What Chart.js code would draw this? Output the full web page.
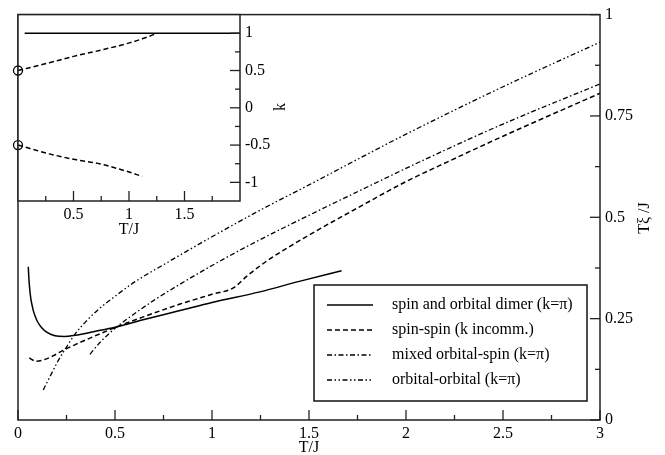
<!DOCTYPE html>
<html>
<head>
<meta charset="utf-8">
<script src="https://cdn.jsdelivr.net/npm/chart.js@4.4.0/dist/chart.umd.min.js"></script>
<style>
  html, body { margin: 0; padding: 0; background: #fff; }
  #wrap { position: relative; width: 665px; height: 455px; }
  #main { position: absolute; left: 0; top: 0; }
  #inset { position: absolute; left: 0; top: 0; }
</style>
</head>
<body>
<div id="wrap">
  <canvas id="main" width="665" height="455"></canvas>
  <canvas id="inset" width="300" height="245"></canvas>
</div>
<script>
// ---------------- data: main panel ----------------
const dimerT = [0.053, 0.056, 0.06, 0.066, 0.073, 0.08, 0.09, 0.1, 0.12, 0.15, 0.19, 0.24, 0.294, 0.4, 0.5, 0.65, 0.835, 1.0, 1.247, 1.45, 1.668];
const dimerV = [0.378, 0.35, 0.325, 0.3, 0.282, 0.268, 0.254, 0.243, 0.229, 0.216, 0.208, 0.206, 0.209, 0.219, 0.229, 0.248, 0.27, 0.29, 0.316, 0.342, 0.368];

const spinT = [0.058, 0.075, 0.096, 0.13, 0.18, 0.225, 0.3, 0.4, 0.5, 0.65, 0.835, 1.0, 1.11, 1.18, 1.247, 1.3, 1.5, 1.75, 2.0, 2.175, 2.5, 3.0];
const spinV = [0.153, 0.148, 0.145, 0.148, 0.158, 0.17, 0.187, 0.208, 0.228, 0.255, 0.286, 0.31, 0.326, 0.355, 0.38, 0.398, 0.456, 0.523, 0.588, 0.628, 0.7, 0.806];

const mixedT = [0.371, 0.42, 0.5, 0.6, 0.7, 0.835, 1.0, 1.2, 1.5, 1.75, 2.072, 2.5, 3.0];
const mixedV = [0.162, 0.19, 0.226, 0.262, 0.295, 0.335, 0.381, 0.433, 0.505, 0.563, 0.637, 0.73, 0.829];

const orbT = [0.13, 0.17, 0.208, 0.25, 0.294, 0.354, 0.42, 0.5, 0.6, 0.75, 1.0, 1.25, 1.5, 1.75, 2.0, 2.5, 3.0];
const orbV = [0.074, 0.112, 0.147, 0.18, 0.212, 0.245, 0.275, 0.305, 0.34, 0.383, 0.452, 0.518, 0.58, 0.643, 0.705, 0.822, 0.932];

const seriesLabels = [
  'spin and orbital dimer (k=\u03c0)',
  'spin-spin (k incomm.)',
  'mixed orbital-spin (k=\u03c0)',
  'orbital-orbital (k=\u03c0)'
];

// ---------------- data: inset ----------------
const insetSolidT = [0.06, 2.0];
const insetSolidK = [1, 1];
const insetUpperT = [0, 0.283, 0.5, 0.734, 1.004, 1.12, 1.245];
const insetUpperK = [0.5, 0.604, 0.69, 0.769, 0.871, 0.925, 0.995];
const insetLowerT = [0, 0.283, 0.5, 0.734, 0.974, 1.119];
const insetLowerK = [-0.5, -0.618, -0.69, -0.751, -0.849, -0.92];
const insetCircleT = [0, 0];
const insetCircleK = [0.5, -0.5];

// ---------------- tick values ----------------
const mainTicksX = [0, 0.5, 1, 1.5, 2, 2.5, 3];
const mainMinorX = [0.25, 0.75, 1.25, 1.75, 2.25, 2.75];
const mainTicksY = [0, 0.25, 0.5, 0.75, 1];
const mainMinorY = [0.125, 0.375, 0.625, 0.875];
const insetTicksX = [0.5, 1, 1.5];
const insetMinorX = [0.25, 0.75, 1.25, 1.75];
const insetTicksY = [-1, -0.5, 0, 0.5, 1];
const insetMinorY = [-0.75, -0.25, 0.25, 0.75];

const FONT = "'Liberation Serif', 'Times New Roman', serif";
Chart.defaults.font.family = FONT;
Chart.defaults.font.size = 16;
Chart.defaults.color = '#000';

function pts(xs, ys) { return xs.map((x, i) => ({ x: x, y: ys[i] })); }

const dashes = [[], [5, 3], [5, 2.5, 1.5, 2.5], [5, 2.5, 1.5, 2.5, 1.5, 2.5]];
const widths = [1.5, 1.5, 1.3, 1.3];

function lineDs(label, xs, ys, i) {
  return {
    label: label, data: pts(xs, ys), showLine: true, pointRadius: 0,
    borderColor: '#000', borderWidth: widths[i], borderDash: dashes[i],
    cubicInterpolationMode: 'monotone', fill: false
  };
}

// plugin: box, inward ticks, titles, legend
function framePlugin(cfg) {
  return {
    id: 'frame_' + cfg.name,
    beforeDraw(chart) {
      if (cfg.whiteArea) {
        const a = chart.chartArea, c = chart.ctx;
        c.save(); c.fillStyle = '#fff';
        c.fillRect(a.left, a.top, a.right - a.left, a.bottom - a.top);
        c.restore();
      }
    },
    afterDraw(chart) {
      const c = chart.ctx, a = chart.chartArea;
      const xs = chart.scales.x, ys = chart.scales.y;
      c.save();
      c.strokeStyle = '#222'; c.lineWidth = 1.5; c.setLineDash([]);
      c.strokeRect(a.left, a.top, a.right - a.left, a.bottom - a.top);
      c.lineWidth = 1.3;
      const tx = (vals, len) => vals.forEach(v => {
        const p = xs.getPixelForValue(v);
        c.beginPath(); c.moveTo(p, a.bottom); c.lineTo(p, a.bottom - len); c.stroke();
      });
      const ty = (vals, len) => vals.forEach(v => {
        const p = ys.getPixelForValue(v);
        c.beginPath(); c.moveTo(a.right, p); c.lineTo(a.right - len, p); c.stroke();
      });
      tx(cfg.tx, 10); tx(cfg.mx, 5); ty(cfg.ty, 10); ty(cfg.my, 5);
      // titles
      c.fillStyle = '#000';
      c.font = '16px ' + FONT;
      c.textAlign = 'center'; c.textBaseline = 'middle';
      c.fillText(cfg.xTitle, (a.left + a.right) / 2, cfg.xTitleY);
      c.save();
      c.translate(cfg.yTitleX, cfg.yTitleY);
      c.rotate(-Math.PI / 2);
      c.fillText(cfg.yTitle, 0, 0);
      c.restore();
      // legend
      if (cfg.legend) {
        const L = cfg.legend;
        c.lineWidth = 1.5; c.strokeStyle = '#111';
        c.strokeRect(L.x0, L.y0, L.x1 - L.x0, L.y1 - L.y0);
        c.textAlign = 'left';
        chart.data.datasets.forEach((ds, i) => {
          const y = L.rows[i];
          c.save();
          c.strokeStyle = '#000'; c.lineWidth = ds.borderWidth;
          c.setLineDash(ds.borderDash || []);
          c.beginPath(); c.moveTo(L.sx0, y); c.lineTo(L.sx1, y); c.stroke();
          c.restore();
          c.fillText(ds.label, L.tx, y);
        });
      }
      c.restore();
    }
  };
}

function fixTicks(values) {
  return function (scale) { scale.ticks = values.map(v => ({ value: v })); };
}

// ---------------- main chart ----------------
new Chart(document.getElementById('main'), {
  type: 'scatter',
  data: {
    datasets: [
      lineDs(seriesLabels[0], dimerT, dimerV, 0),
      lineDs(seriesLabels[1], spinT, spinV, 1),
      lineDs(seriesLabels[2], mixedT, mixedV, 2),
      lineDs(seriesLabels[3], orbT, orbV, 3)
    ]
  },
  options: {
    responsive: false, animation: false, devicePixelRatio: 1,
    layout: { padding: { left: 18, top: 12, right: 0, bottom: 0 } },
    plugins: { legend: { display: false }, tooltip: { enabled: false } },
    scales: {
      x: {
        type: 'linear', position: 'bottom', min: 0, max: 3,
        afterBuildTicks: fixTicks(mainTicksX),
        afterFit(s) { s.height = 35; },
        grid: { display: false, drawTicks: false },
        border: { display: false },
        ticks: { padding: 4, maxRotation: 0, autoSkip: false, callback: v => String(v) }
      },
      y: {
        type: 'linear', position: 'right', min: 0, max: 1,
        afterBuildTicks: fixTicks(mainTicksY),
        afterFit(s) { s.width = 65; },
        grid: { display: false, drawTicks: false },
        border: { display: false },
        ticks: { padding: 5, autoSkip: false, callback: v => String(v) }
      }
    }
  },
  plugins: [framePlugin({
    name: 'main', tx: mainTicksX, mx: mainMinorX, ty: mainTicksY, my: mainMinorY,
    xTitle: 'T/J', xTitleY: 448, yTitle: 'T\u03be /J', yTitleX: 645, yTitleY: 218,
    legend: { x0: 314, y0: 285, x1: 587, y1: 401, rows: [305, 330, 355, 380], sx0: 327, sx1: 373, tx: 392 }
  })]
});

// ---------------- inset chart ----------------
new Chart(document.getElementById('inset'), {
  type: 'scatter',
  data: {
    datasets: [
      { data: pts(insetSolidT, insetSolidK), showLine: true, pointRadius: 0, borderColor: '#000', borderWidth: 1.5, borderDash: [] },
      { data: pts(insetUpperT, insetUpperK), showLine: true, pointRadius: 0, borderColor: '#000', borderWidth: 1.5, borderDash: [5, 3], cubicInterpolationMode: 'monotone' },
      { data: pts(insetLowerT, insetLowerK), showLine: true, pointRadius: 0, borderColor: '#000', borderWidth: 1.5, borderDash: [5, 3], cubicInterpolationMode: 'monotone' },
      { data: pts(insetCircleT, insetCircleK), showLine: false, pointRadius: 4.5, pointBorderWidth: 1.3, pointBorderColor: '#000', pointBackgroundColor: 'rgba(0,0,0,0)', clip: false }
    ]
  },
  options: {
    responsive: false, animation: false, devicePixelRatio: 1,
    layout: { padding: { left: 18, top: 13, right: 0, bottom: 0 } },
    plugins: { legend: { display: false }, tooltip: { enabled: false } },
    scales: {
      x: {
        type: 'linear', position: 'bottom', min: 0, max: 2,
        afterBuildTicks: fixTicks(insetTicksX),
        afterFit(s) { s.height = 44; },
        grid: { display: false, drawTicks: false },
        border: { display: false },
        ticks: { padding: 4, maxRotation: 0, autoSkip: false, callback: v => String(v) }
      },
      y: {
        type: 'linear', position: 'right', min: -1.25, max: 1.25,
        afterBuildTicks: fixTicks(insetTicksY),
        afterFit(s) { s.width = 60; },
        grid: { display: false, drawTicks: false },
        border: { display: false },
        ticks: { padding: 5, autoSkip: false, callback: v => String(v) }
      }
    }
  },
  plugins: [framePlugin({
    name: 'inset', whiteArea: true, tx: insetTicksX, mx: insetMinorX, ty: insetTicksY, my: insetMinorY,
    xTitle: 'T/J', xTitleY: 230, yTitle: 'k', yTitleX: 281, yTitleY: 107
  })]
});
</script>
</body>
</html>
